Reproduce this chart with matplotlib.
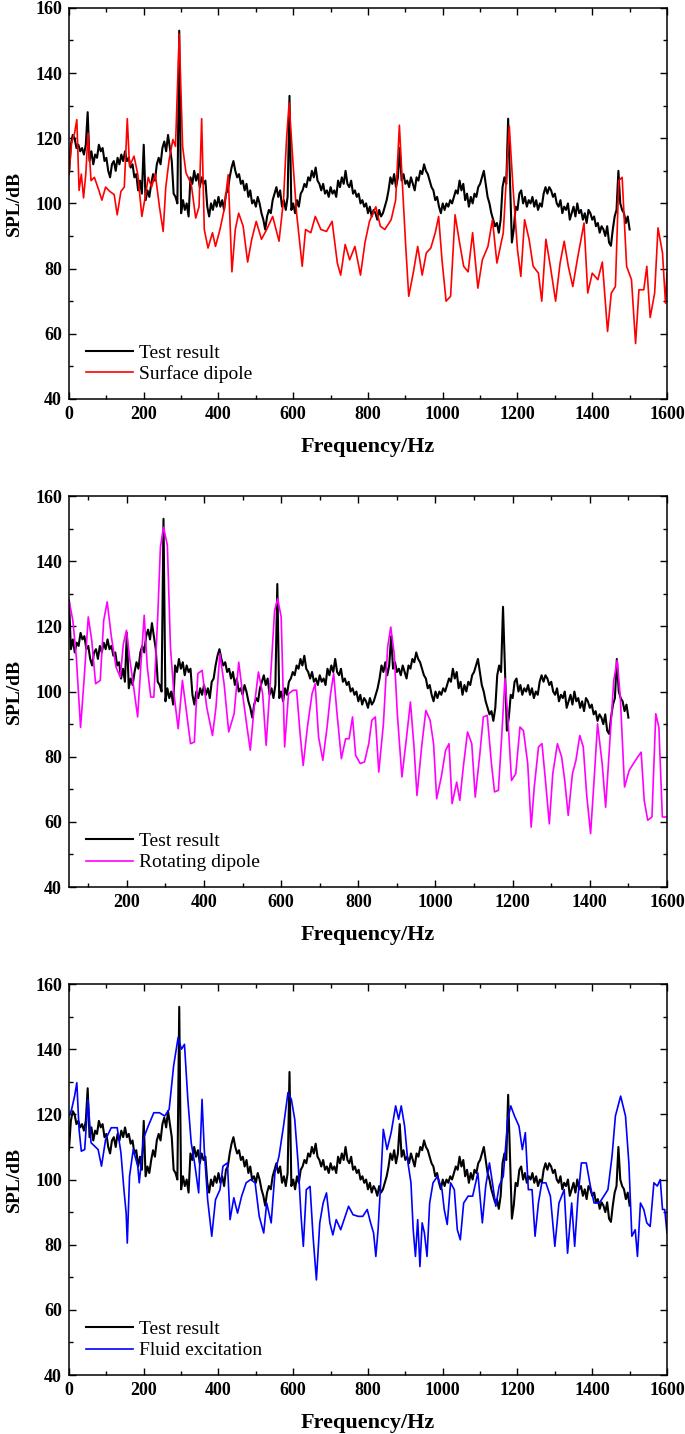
import matplotlib
matplotlib.use("Agg")
import matplotlib.pyplot as plt
from matplotlib.ticker import MultipleLocator

plt.rcParams['font.family'] = ['Liberation Serif', 'DejaVu Serif']

# ---------------- data ----------------
# Test result (black), 5 Hz step, 0..1500 Hz
test_freq = list(range(0, 1505, 5))
test_spl = [
    109, 118, 121, 120, 117, 118, 116, 117, 115, 118,
    128, 113, 116, 112, 115, 114, 118, 116, 117, 113,
    114, 110, 108, 112, 113, 110, 114, 112, 115, 113,
    116, 113, 114, 111, 112, 108, 109, 104, 107, 103,
    118, 101, 104, 102, 106, 109, 107, 112, 114, 112,
    117, 119, 116, 121, 117, 113, 103, 102, 100, 153,
    97, 101, 98, 100, 96, 108, 106, 110, 107, 109,
    105, 108, 106, 107, 99, 96, 100, 98, 101, 99,
    102, 99, 101, 98, 103, 104, 108, 111, 113, 110,
    108, 109, 106, 107, 104, 106, 102, 104, 100, 101,
    99, 102, 100, 97, 95, 92, 96, 98, 97, 101,
    103, 105, 102, 104, 99, 101, 98, 102, 133, 98,
    100, 97, 101, 99, 103, 104, 106, 105, 108, 107,
    110, 108, 111, 107, 106, 104, 106, 103, 104, 102,
    105, 103, 104, 102, 107, 105, 108, 106, 110, 106,
    105, 107, 103, 104, 102, 103, 100, 101, 99, 100,
    97, 99, 96, 98, 97, 95, 98, 96, 97, 99,
    101, 104, 108, 106, 109, 105, 108, 117, 107, 109,
    106, 107, 105, 108, 106, 104, 108, 107, 110, 109,
    112, 110, 109, 107, 105, 104, 101, 102, 99, 97,
    100, 98, 100, 99, 101, 100, 102, 104, 103, 107,
    104, 106, 101, 103, 99, 102, 100, 103, 102, 105,
    106, 108, 110, 106, 102, 100, 97, 95, 93, 94,
    91, 95, 105, 108, 106, 126, 107, 88, 92, 99,
    98, 103, 104, 100, 102, 99, 101, 100, 102, 99,
    101, 98, 100, 99, 103, 105, 103, 105, 104, 102,
    103, 100, 99, 101, 97, 99, 98, 100, 95, 97,
    99, 96, 100, 97, 98, 95, 97, 94, 98, 97,
    95, 96, 93, 94, 91, 93, 92, 90, 93, 88,
    87, 92, 96, 98, 110, 100, 98, 97, 94, 96,
    92,
]

# Surface dipole (red)
surf_freq = [0, 7, 15, 21, 27, 33, 39, 45, 51, 59, 68, 80, 88, 98, 109, 121, 129, 139, 148,
             156, 162, 174, 184, 195, 204, 212, 221, 231, 242, 252, 259, 268, 278, 285, 295,
             304, 313, 327, 339, 348, 355, 362, 372, 384, 392, 404, 415, 426, 436, 445, 454,
             466, 478, 489, 501, 515, 529, 545, 562, 574, 582, 589, 600, 609, 624, 633, 647,
             659, 674, 689, 704, 718, 727, 739, 751, 765, 780, 792, 804, 821, 833, 845, 862,
             874, 884, 892, 901, 909, 921, 933, 945, 956, 968, 980, 989, 998, 1009, 1021, 1033,
             1045, 1056, 1068, 1080, 1094, 1106, 1121, 1133, 1145, 1162, 1178, 1188, 1200, 1209,
             1219, 1231, 1242, 1256, 1265, 1276, 1288, 1302, 1314, 1325, 1336, 1348, 1360, 1378,
             1388, 1400, 1415, 1427, 1441, 1451, 1462, 1471, 1480, 1492, 1505, 1516, 1525, 1538,
             1546, 1555, 1567, 1576, 1588, 1596, 1600]
surf_spl = [109, 118.5, 121.6, 125.7, 104, 109, 101.7, 109, 121.6, 107, 108, 104, 101, 105, 103.7,
            102.7, 96.5, 103.7, 105, 126, 111.4, 114.5, 109, 96, 102, 108, 105, 109, 99, 91.4,
            105, 113.4, 119.6, 117.5, 152, 117.5, 109.4, 106, 95.5, 99, 126, 92, 86.3, 91, 86.8,
            92, 98, 108.8, 79, 92, 97, 93, 82, 89, 94.5, 89, 92, 96, 88.4, 101, 119.6, 130.8,
            111.4, 97, 80.7, 92, 91, 96, 92, 91.4, 94.5, 81.7, 78, 87.4, 82.7, 86.8, 78, 88,
            94.5, 99, 93, 92, 95, 101, 124, 106, 86.8, 71.5, 78.6, 86.8, 78, 84.8, 86.3, 91,
            96, 82.7, 70, 71.5, 96.5, 88, 80.7, 79, 91, 74, 82.7, 86.8, 95, 81.7, 91, 123.7,
            105, 85.8, 77.6, 95, 89, 80.7, 78.6, 70, 89, 80.7, 70, 81.7, 88.4, 80.7, 74.5, 82.7,
            94, 72.5, 78.6, 76.6, 82, 60.7, 72.5, 74.5, 107, 108, 80.7, 76.6, 57, 73.5, 73.5,
            80.7, 65, 72.5, 92.5, 84.8, 69.4, 78.6]

# Rotating dipole (magenta)
rot_freq = [51, 60, 69, 80, 89, 100, 109, 119, 131, 140, 149, 160, 172, 183, 191, 199, 208, 217,
            228, 236, 245, 253, 262, 270, 280, 287, 295, 305, 313, 322, 333, 344, 353, 365, 375,
            384, 395, 407, 422, 431, 441, 452, 464, 478, 490, 501, 512, 520, 530, 541, 552, 561,
            572, 583, 591, 600, 609, 619, 631, 640, 649, 657, 668, 680, 688, 697, 708, 719, 728,
            736, 744, 756, 767, 776, 785, 793, 805, 816, 827, 835, 844, 853, 865, 876, 884, 893,
            901, 913, 924, 935, 944, 952, 964, 975, 986, 995, 1003, 1015, 1026, 1035, 1043, 1055,
            1063, 1072, 1083, 1094, 1103, 1115, 1124, 1134, 1145, 1153, 1163, 1172, 1180, 1188,
            1197, 1208, 1219, 1228, 1239, 1248, 1256, 1267, 1276, 1285, 1295, 1304, 1316, 1327,
            1335, 1344, 1355, 1364, 1374, 1383, 1392, 1402, 1411, 1420, 1432, 1441, 1451, 1462,
            1471, 1479, 1490, 1502, 1513, 1524, 1533, 1541, 1550, 1561, 1571, 1579, 1588, 1600]
rot_spl = [127.5, 121.8, 110.6, 89, 103.4, 122.9, 115.7, 102.4, 103.4, 121.8, 127.5, 116.7, 107.5,
           104.4, 114.7, 118.8, 109.6, 101.9, 92.2, 107.5, 123.4, 107.5, 98.3, 98.3, 122.9, 144.3,
           150.5, 144.9, 113.7, 99.3, 88.6, 103.4, 95.2, 84, 84.5, 105.5, 106.5, 95.2, 86.5, 95.2,
           111.6, 102.4, 87.6, 93.2, 109, 98.3, 88.6, 82, 95.2, 106, 99.3, 83.5, 103.4, 124.9,
           128.5, 122.9, 83, 99.3, 100.4, 100.4, 87.1, 77.3, 89.1, 99.3, 102.4, 86, 78.9, 89.1,
           99.3, 105.5, 94.2, 79.4, 85.5, 85.5, 92.2, 80.4, 77.9, 78.4, 84, 91.2, 92.2, 75.3,
           90.1, 113.7, 119.8, 111.6, 93.2, 73.8, 85, 96.8, 83.5, 68.1, 83, 94.2, 91.2, 84, 67.1,
           73.8, 81.9, 84, 65.6, 72.2, 66.6, 76.8, 87.6, 84, 67.6, 80.9, 92.2, 92.7, 77.9, 69.2,
           69.7, 87.1, 104, 91.2, 72.7, 74.8, 89.1, 88, 77.9, 58.4, 70.7, 83, 84, 72.7, 59.4,
           74.8, 84, 79.9, 72.7, 62, 74.8, 78.9, 86.5, 83, 68.1, 56.4, 72.7, 90.1, 77.9, 64.5,
           83, 103.4, 109.6, 98.3, 70.7, 75.8, 77.9, 79.9, 81.4, 66.6, 60.5, 61.5, 93.2, 89,
           61.5, 61.5]

# Fluid excitation (blue)
fluid_freq = [0, 7, 15, 21, 27, 33, 42, 51, 59, 68, 78, 87, 98, 113, 129, 139, 147, 153, 156,
              162, 172, 184, 188, 200, 212, 227, 242, 256, 268, 280, 292, 301, 309, 318, 327,
              336, 347, 356, 362, 371, 382, 392, 404, 412, 424, 431, 441, 451, 462, 474, 486,
              498, 509, 521, 529, 541, 551, 562, 574, 586, 595, 604, 613, 621, 627, 635, 645,
              653, 662, 671, 680, 689, 698, 706, 715, 727, 739, 748, 760, 774, 786, 798, 807,
              815, 821, 827, 833, 841, 851, 862, 874, 882, 889, 898, 907, 915, 921, 927, 933,
              939, 945, 951, 958, 965, 974, 986, 998, 1004, 1012, 1021, 1031, 1039, 1047, 1056,
              1068, 1080, 1094, 1106, 1115, 1125, 1133, 1142, 1151, 1162, 1174, 1182, 1192, 1204,
              1213, 1221, 1229, 1239, 1247, 1256, 1265, 1276, 1288, 1300, 1311, 1325, 1334, 1345,
              1353, 1362, 1371, 1384, 1395, 1405, 1419, 1431, 1442, 1453, 1462, 1476, 1489, 1498,
              1506, 1515, 1521, 1529, 1538, 1546, 1555, 1565, 1574, 1582, 1588, 1594, 1600]
fluid_spl = [119.5, 121.5, 125.6, 129.7, 115.4, 108.7, 109.2, 124.6, 111.3, 110.3, 109.2, 104.1,
             112.3, 115.9, 115.9, 108.2, 96.9, 89.7, 80.5, 101, 109.2, 104.1, 99, 112.8, 116.4,
             120.5, 120.5, 119.5, 121.5, 134.9, 143.6, 140, 141.5, 124.6, 111.3, 105.1, 95.9,
             124.6, 109.2, 93.8, 82.6, 93.8, 96.9, 104.1, 105.1, 87.7, 94.4, 89.7, 94.9, 99,
             100, 99, 88.7, 83.6, 92.8, 86.7, 102, 107.2, 116.4, 126.7, 124.6, 118.5, 105.1,
             88.7, 79.5, 96.9, 97.9, 82.6, 69.2, 86.7, 92.8, 95.9, 86.7, 83, 87.7, 84.6, 88.7,
             91.8, 89.2, 88.7, 88.7, 90.8, 86.7, 83.6, 76.4, 84.6, 96.9, 115.4, 109.2, 114.4,
             122.6, 118.5, 122.6, 116.4, 105.1, 99, 84.6, 76.4, 87.7, 73.3, 86.7, 83.6, 76.4,
             92.8, 99, 101, 96.9, 90.8, 86.2, 99, 96.9, 84.6, 81.5, 92.8, 94.9, 94.9, 102, 86.7,
             98, 105.1, 99, 91.8, 98, 101, 118.5, 122.6, 119.5, 116.4, 109.2, 114.4, 96.9, 96.9,
             82.6, 92.8, 99, 99, 94.9, 79.5, 92.8, 96.9, 77.4, 92.8, 79.5, 94.9, 105.1, 105.1,
             98, 92.8, 92.8, 94.9, 96.9, 107.2, 119.5, 125.6, 119.5, 105.1, 82.6, 84.6, 76.4,
             92.8, 90.8, 86.7, 85.6, 99, 98, 100, 90.8, 90.8, 83.6]

panels = [
    dict(freq=surf_freq, spl=surf_spl, color='#ff0000', label='Surface dipole', xmin=0),
    dict(freq=rot_freq, spl=rot_spl, color='#ff00ff', label='Rotating dipole', xmin=50),
    dict(freq=fluid_freq, spl=fluid_spl, color='#0000ff', label='Fluid excitation', xmin=0),
]

# ---------------- figure ----------------
fig = plt.figure(figsize=(6.85, 14.34), dpi=100)
bottoms = [0.7218, 0.3814, 0.0411]
left, width, height = 0.1007, 0.873, 0.2727

for p, b in zip(panels, bottoms):
    ax = fig.add_axes([left, b, width, height])
    ax.plot(test_freq, test_spl, color='black', lw=1.5, label='Test result')
    ax.plot(p['freq'], p['spl'], color=p['color'], lw=1.2, label=p['label'])
    ax.set_xlim(p['xmin'], 1600)
    ax.set_ylim(40, 160)
    ax.xaxis.set_major_locator(MultipleLocator(200))
    ax.xaxis.set_minor_locator(MultipleLocator(100))
    ax.yaxis.set_major_locator(MultipleLocator(20))
    ax.yaxis.set_minor_locator(MultipleLocator(10))
    ax.tick_params(which='both', direction='in', top=True, right=True, width=1.0)
    ax.tick_params(which='major', length=5, labelsize=13, pad=5)
    ax.tick_params(which='minor', length=3)
    for lab in ax.get_xticklabels() + ax.get_yticklabels():
        lab.set_fontweight('bold')
    for s in ax.spines.values():
        s.set_linewidth(1.1)
    ax.set_xlabel('Frequency/Hz', fontsize=16, fontweight='bold', labelpad=10)
    ax.set_ylabel('SPL/dB', fontsize=14, fontweight='bold', labelpad=9)
    ax.legend(loc='lower left', bbox_to_anchor=(0.028, 0.04), frameon=False,
              fontsize=14, handlelength=2.45, handletextpad=0.3, labelspacing=0.2,
              borderaxespad=0, borderpad=0)

fig.savefig('out.png', dpi=100)
